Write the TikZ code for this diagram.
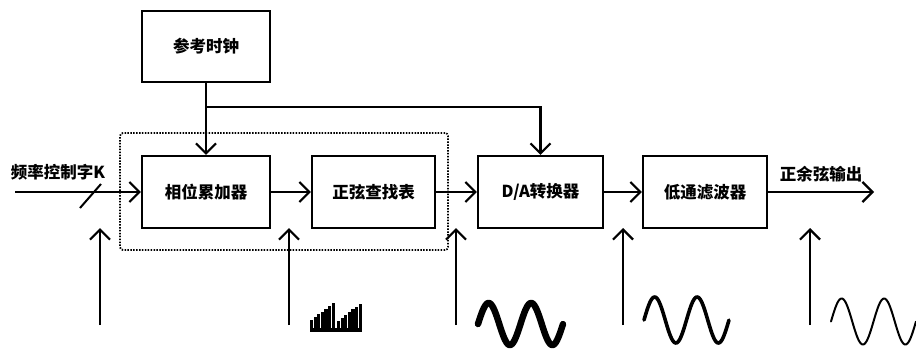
\documentclass[tikz,border=0pt]{standalone}
\usepackage{fontspec}
\setmainfont{Noto Sans CJK SC}
\usetikzlibrary{arrows.meta}
\begin{document}
\begin{tikzpicture}[x=1pt,y=-1pt,
  txt/.style={font=\fontsize{16.5}{17}\selectfont\bfseries, inner sep=0pt},
  blk/.style={draw, line width=2.2pt, minimum height=72pt, inner sep=0pt, txt},
  conn/.style={line width=2.2pt, -{Straight Barb[length=10pt,width=20pt]}},
  dotbox/.style={draw, line width=1.8pt, dash pattern=on 1.5pt off 1.4pt, rounded corners=3pt},
  wave/.style={line cap=round, line join=round},
]
\useasboundingbox (0,0) rectangle (916,354);

% blocks
\node[blk, minimum width=128pt, minimum height=71pt] (clk) at (206,46.5) {参考时钟};
\node[blk, minimum width=128pt] (acc) at (206,192) {相位累加器};
\node[blk, minimum width=123pt] (lut) at (373.5,192) {正弦查找表};
\node[blk, minimum width=125pt] (dac) at (540.5,192) {D/A转换器};
\node[blk, minimum width=124pt] (lpf) at (705,192) {低通滤波器};

% dotted group
\node[dotbox, minimum width=328pt, minimum height=117pt] (grp) at (284,191.5) {};

% labels
\node[txt] (lblin) at (58,172) {频率控制字K};
\node[txt] (lblout) at (821,174) {正余弦输出};

% coordinates
\coordinate (in) at (15,192);
\coordinate (out) at (874,192);
\coordinate (br) at (206,107);

% connectors
\draw[conn] (in) -- (acc.west);
\draw[conn] (acc.east) -- (lut.west);
\draw[conn] (lut.east) -- (dac.west);
\draw[conn] (dac.east) -- (lpf.west);
\draw[conn] (lpf.east) -- (out);
\draw[conn] (clk.south) -- (acc.north);
\draw[conn] (br) -| (dac.north);

% bus slash
\coordinate (s1) at (80,208);
\coordinate (s2) at (101,184);
\draw[line width=2pt] (s1) -- (s2);

% probe arrows
\foreach \i/\px in {1/100,2/289,3/456,4/623,5/810}{
  \coordinate (p\i b) at (\px,325);
  \coordinate (p\i t) at (\px,228);
  \draw[conn] (p\i b) -- (p\i t);
}

% stepped samples
\foreach \k in {0,...,6}{
  \fill (310+3.6*\k,332) rectangle ++(3.2,-12-2.8*\k);
}
\foreach \k in {0,...,6}{
  \fill (337+3.6*\k,332) rectangle ++(3.2,-11-2.9*\k);
}
\fill (310,332) rectangle (362,328);

% D/A output
\draw[wave, line width=6.5pt] plot[domain=0:2, samples=90, smooth] ({478+42.5*\x},{324-21*sin(360*\x)});
% LPF output
\draw[wave, line width=3.6pt] plot[domain=0:2, samples=90, smooth] ({644+42.5*\x},{320-23*sin(360*\x)});
% final output
\draw[wave, line width=2pt] plot[domain=0:2, samples=90, smooth] ({831+42.5*\x},{321.5-23*sin(360*\x)});
\end{tikzpicture}
\end{document}
